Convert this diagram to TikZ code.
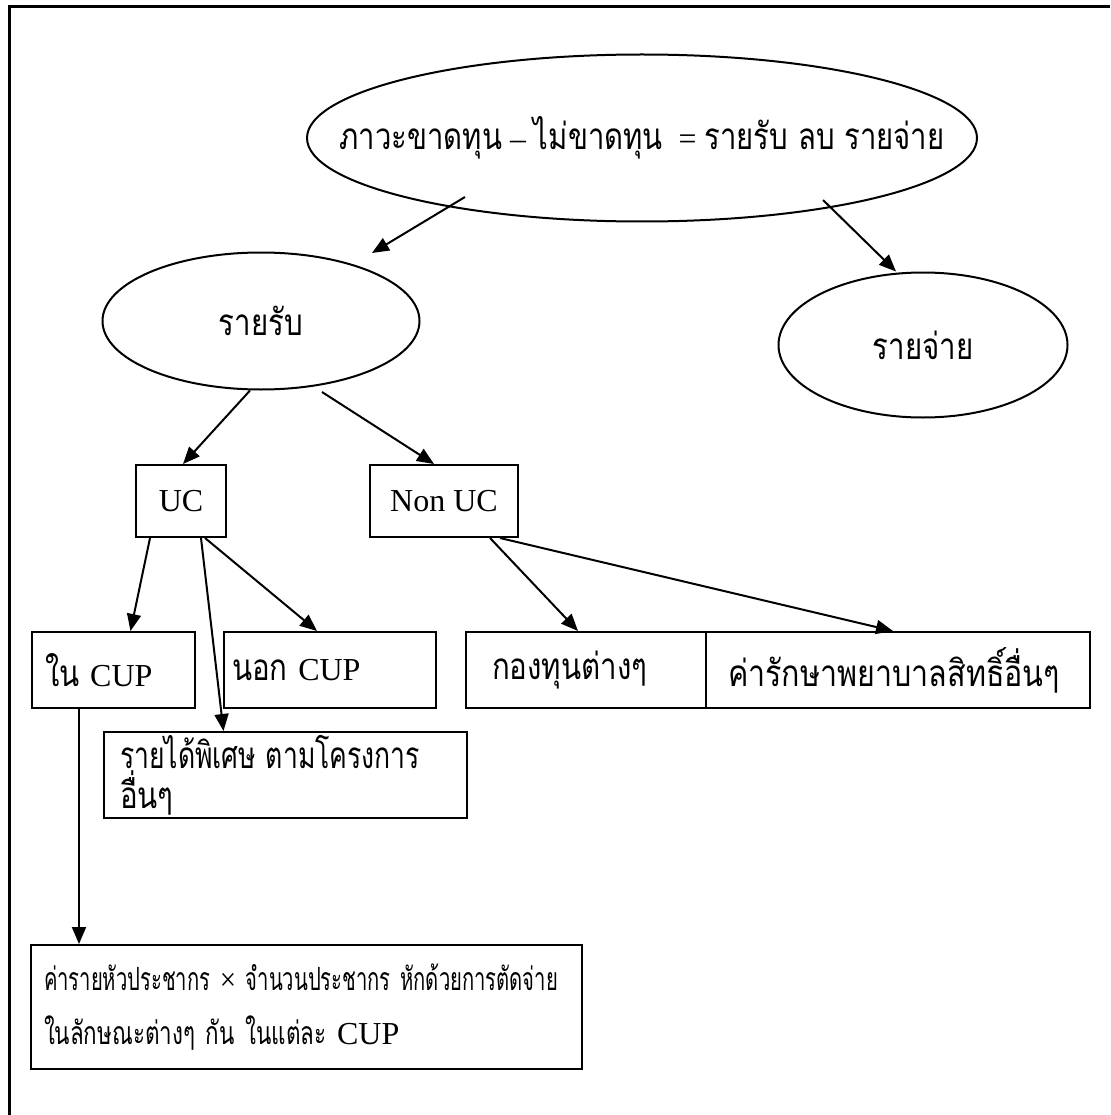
\documentclass[tikz,border=0pt]{standalone}
\usepackage{fontspec}
\usepackage{graphicx}
\setmainfont{Liberation Serif}
\newfontfamily\thai[Script=Thai,Scale=1.15,FakeStretch=0.8]{Loma}
\newfontfamily\thaism[Script=Thai,Scale=1.0,FakeStretch=0.7]{Loma}
\newcommand\thw[2]{\resizebox{#1}{\height}{\thai #2}}
\usetikzlibrary{arrows.meta,shapes.geometric}
\begin{document}
\begin{tikzpicture}[x=1pt,y=-1pt,
  every node/.style={font=\fontsize{32}{40}\selectfont},
  ell/.style={draw, ellipse, line width=2pt, inner sep=0pt},
  tbox/.style={draw, rectangle, line width=2pt, align=left, inner ysep=0pt},
  cbox/.style={draw, rectangle, line width=2pt, align=center, inner sep=0pt},
  arr/.style={line width=2pt, -{Triangle[length=17pt,width=14pt]}},
  frame/.style={line width=3pt}
]
\useasboundingbox (0,0) rectangle (1110,1115);
\draw[frame] (9,1115) -- (9,7) -- (1110,7);

\node[ell, minimum width=670pt, minimum height=167pt] (top) at (642,138)
  {\makebox[0pt]{\resizebox{605pt}{\height}{{\thai ภาวะขาดทุน} – {\thai ไม่ขาดทุน}~~= {\thai รายรับ ลบ รายจ่าย}}}};
\node[ell, minimum width=317pt, minimum height=137pt] (inc) at (261,321)
  {\makebox[0pt]{\thai รายรับ}};
\node[ell, minimum width=289pt, minimum height=145pt] (exp) at (923,345)
  {\makebox[0pt]{\thai รายจ่าย}};

\node[cbox, minimum width=90pt, minimum height=72pt] (uc) at (181,501) {UC};
\node[cbox, minimum width=148pt, minimum height=72pt] (nonuc) at (444,501) {Non UC};

\node[tbox, inner xsep=13pt, text width=137pt, minimum height=76pt] (incup) at (113.5,670)
  {{\thai ใน} CUP};
\node[tbox, inner xsep=8pt, text width=196pt, minimum height=76pt] (outcup) at (330,670)
  {{\thai นอก} CUP};
\node[tbox, inner xsep=26pt, text width=188pt, minimum height=76pt] (funds) at (586,670)
  {\thai กองทุนต่างๆ};
\node[tbox, inner xsep=22pt, text width=340pt, minimum height=76pt] (med) at (898,670)
  {\thw{332pt}{ค่ารักษาพยาบาลสิทธิ์อื่นๆ}};
\node[tbox, inner xsep=16pt, text width=331pt, minimum height=86pt] (extra) at (285.5,775)
  {\thw{300pt}{รายได้พิเศษ ตามโครงการ}\\[0pt]{\thai อื่นๆ}};
\node[tbox, inner xsep=13pt, text width=525pt, minimum height=124pt] (bottom) at (306.5,1007)
  {\resizebox{514pt}{\height}{{\thaism ค่ารายหัวประชากร} × {\thaism จำนวนประชากร หักด้วยการตัดจ่าย}}\\[14pt]{\thaism ในลักษณะต่างๆ กัน ในแต่ละ} CUP};

\draw[arr] ([shift={(-177,59)}]top.center) -- ([shift={(111,-68)}]inc.center);
\draw[arr] ([shift={(181,62)}]top.center) -- ([xshift=-27pt]exp.north);
\draw[arr] ([xshift=-11pt]inc.south) -- ([xshift=2pt]uc.north);
\draw[arr] ([shift={(61,71)}]inc.center) -- ([xshift=-10pt]nonuc.north);
\draw[arr] ([xshift=-31pt]uc.south) -- ([xshift=17pt]incup.north);
\draw[arr] ([xshift=20pt]uc.south) -- ([xshift=-62pt]extra.north);
\draw[arr] ([xshift=24pt]uc.south) -- ([xshift=-13pt]outcup.north);
\draw[arr] ([xshift=46pt]nonuc.south) -- ([xshift=-8pt]funds.north);
\draw[arr] ([xshift=56pt]nonuc.south) -- ([xshift=-5pt]med.north);
\draw[arr] ([xshift=-34.5pt]incup.south) -- ([xshift=-227.5pt]bottom.north);
\end{tikzpicture}
\end{document}
